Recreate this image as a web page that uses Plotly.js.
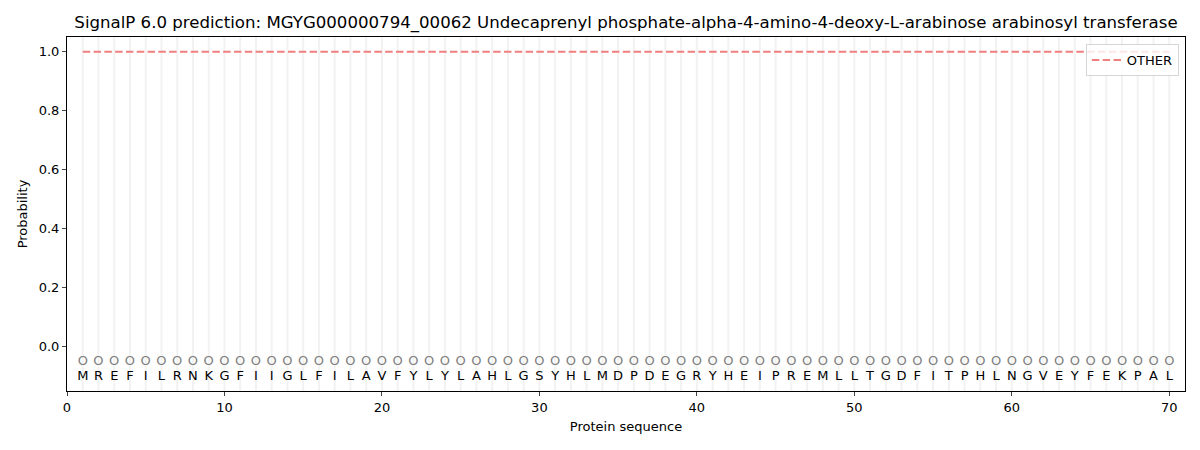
<!DOCTYPE html>
<html>
<head>
<meta charset="utf-8">
<script src="https://cdn.plot.ly/plotly-3.0.1.min.js"></script>
<style>
  html, body { margin: 0; padding: 0; background: #fff; }
  #chart { width: 1200px; height: 450px; }
</style>
</head>
<body>
<div id="chart"></div>
<script>
// sequence residues and per-position predictions
const residues = "MREFILRNKGFIIGLFILAVFYLYLAHLGSYHLMDPDEGRYHEIPREMLLTGDFITPHLNGVEYFEKPAL".split("");
const labels = residues.map(() => "O");
const probOther = residues.map(() => 1.0);
const positions = residues.map((_, i) => i + 1);

const FONT = 'DejaVu Sans, Liberation Sans, sans-serif';

const traces = [
  {
    x: positions,
    y: probOther,
    type: "scatter",
    mode: "lines",
    name: "OTHER",
    line: { color: "#f08080", width: 2, dash: "7.5px,3.3px" },
  },
  {
    x: positions,
    y: positions.map(() => -0.05),
    type: "scatter",
    mode: "text",
    text: labels,
    textfont: { family: FONT, size: 13, color: "#808080" },
    showlegend: false,
    hoverinfo: "skip",
  },
  {
    x: positions,
    y: positions.map(() => -0.1),
    type: "scatter",
    mode: "text",
    text: residues,
    textfont: { family: FONT, size: 13, color: "#000" },
    showlegend: false,
    hoverinfo: "skip",
  },
];

const layout = {
  width: 1200,
  height: 450,
  paper_bgcolor: "#fff",
  plot_bgcolor: "#fff",
  margin: { l: 67, r: 15, t: 37, b: 59 },
  font: { family: FONT, size: 13, color: "#000" },
  title: {
    text: "SignalP 6.0 prediction: MGYG000000794_00062 Undecaprenyl phosphate-alpha-4-amino-4-deoxy-L-arabinose arabinosyl transferase",
    font: { family: FONT, size: 16.6, color: "#000" },
    xref: "paper",
    x: 0.5,
    xanchor: "center",
    y: 0.95,
    yanchor: "middle",
  },
  xaxis: {
    range: [0, 71],
    tickvals: [0, 10, 20, 30, 40, 50, 60, 70],
    showgrid: false,
    zeroline: false,
    showline: true,
    mirror: true,
    linecolor: "#000",
    linewidth: 1,
    ticks: "outside",
    ticklen: 4,
    tickfont: { family: FONT, size: 13 },
    title: { text: "Protein sequence", font: { family: FONT, size: 13 }, standoff: 8 },
  },
  yaxis: {
    range: [-0.15, 1.05],
    tickvals: [0, 0.2, 0.4, 0.6, 0.8, 1.0],
    ticktext: ["0.0", "0.2", "0.4", "0.6", "0.8", "1.0"],
    showgrid: false,
    zeroline: false,
    showline: true,
    mirror: true,
    linecolor: "#000",
    linewidth: 1,
    ticks: "outside",
    ticklen: 4,
    tickfont: { family: FONT, size: 13 },
    title: { text: "Probability", font: { family: FONT, size: 13 }, standoff: 8 },
  },
  shapes: positions.map((p) => ({
    type: "line",
    xref: "x",
    yref: "paper",
    x0: p, x1: p, y0: 0, y1: 1,
    line: { color: "#f2f2f2", width: 2 },
    layer: "below",
  })),
  legend: {
    x: 0.9945,
    xanchor: "right",
    y: 0.98,
    yanchor: "top",
    bgcolor: "rgba(255,255,255,0.8)",
    bordercolor: "#d6d6d6",
    borderwidth: 1,
    font: { family: FONT, size: 13 },
    itemwidth: 30,
  },
  showlegend: true,
};

Plotly.newPlot("chart", traces, layout, { displayModeBar: false, staticPlot: true });
</script>
</body>
</html>
